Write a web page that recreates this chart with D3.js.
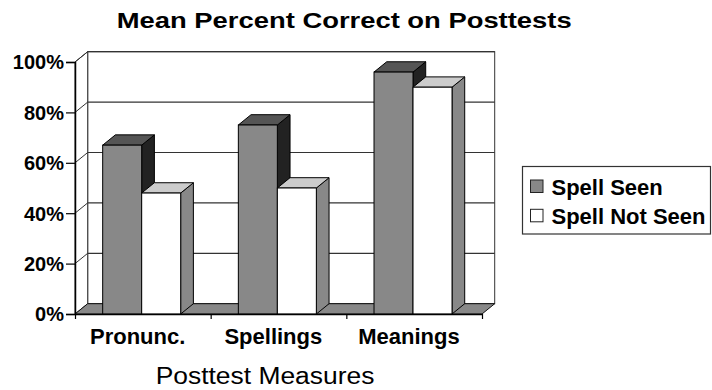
<!DOCTYPE html>
<html>
<head>
<meta charset="utf-8">
<script src="https://cdn.jsdelivr.net/npm/d3@7"></script>
<style>
  html, body { margin: 0; padding: 0; background: #fff; }
  svg { display: block; font-family: "Liberation Sans", Arial, sans-serif; }
</style>
</head>
<body>
<svg id="chart" width="712" height="390"></svg>
<script>
const categories = ["Pronunc.", "Spellings", "Meanings"];
const seriesNames = ["Spell Seen", "Spell Not Seen"];
const spellSeen = [0.67, 0.75, 0.96];
const spellNotSeen = [0.48, 0.50, 0.90];
const yTicks = [0, 0.2, 0.4, 0.6, 0.8, 1.0];
const titleText = "Mean Percent Correct on Posttests";
const xTitleText = "Posttest Measures";

const svg = d3.select("#chart");
const dx = 12.7, dy = 10.3;

const y = d3.scaleLinear().domain([0, 1]).range([314, 62]);
const x0 = d3.scaleBand().domain(categories).range([75, 482])
  .paddingInner(0.425).paddingOuter(0.2125).align(0.48);
const x1 = d3.scaleBand().domain(seriesNames).range([0, x0.bandwidth()]);
const xb = d3.scaleLinear().domain([0, categories.length]).range([75, 482]);

const styles = {
  "Spell Seen": { front: "#888888", top: "#555555", side: "#222222" },
  "Spell Not Seen": { front: "#ffffff", top: "#cccccc", side: "#888888" }
};

const xL = x0.range()[0], xR = x0.range()[1];
const y0 = y(0), y1 = y(1);

// back wall
svg.append("rect")
  .attr("x", xL + dx).attr("y", y1 - dy)
  .attr("width", xR - xL).attr("height", y0 - y1)
  .attr("fill", "#fff").attr("stroke", "#333").attr("stroke-width", 1);

// left wall
svg.append("path")
  .attr("d", `M${xL},${y0}L${xL + dx},${y0 - dy}L${xL + dx},${y1 - dy}L${xL},${y1}Z`)
  .attr("fill", "#fff").attr("stroke", "#333").attr("stroke-width", 1);

// gridlines
const grid = svg.append("g");
yTicks.filter(t => t > 0).forEach(t => {
  grid.append("line")
    .attr("x1", xL + dx).attr("x2", xR + dx)
    .attr("y1", y(t) - dy).attr("y2", y(t) - dy)
    .attr("stroke", "#333").attr("stroke-width", 1.2);
  grid.append("line")
    .attr("x1", xL).attr("x2", xL + dx)
    .attr("y1", y(t)).attr("y2", y(t) - dy)
    .attr("stroke", "#333").attr("stroke-width", 1);
});

// floor
svg.append("path")
  .attr("d", `M${xL},${y0}L${xR},${y0}L${xR + dx},${y0 - dy}L${xL + dx},${y0 - dy}Z`)
  .attr("fill", "#888888").attr("stroke", "#111").attr("stroke-width", 1);

// bars
const bars = [];
categories.forEach((c, i) => {
  bars.push({ cat: c, s: "Spell Seen", v: spellSeen[i] });
  bars.push({ cat: c, s: "Spell Not Seen", v: spellNotSeen[i] });
});
const gb = svg.append("g");
bars.forEach(b => {
  const xa = x0(b.cat) + x1(b.s);
  const xw = xa + x1.bandwidth();
  const yt = y(b.v);
  const st = styles[b.s];
  gb.append("path")
    .attr("d", `M${xw},${y0}L${xw + dx},${y0 - dy}L${xw + dx},${yt - dy}L${xw},${yt}Z`)
    .attr("fill", st.side).attr("stroke", "#000").attr("stroke-width", 1).attr("stroke-linejoin", "round");
  gb.append("path")
    .attr("d", `M${xa},${yt}L${xa + dx},${yt - dy}L${xw + dx},${yt - dy}L${xw},${yt}Z`)
    .attr("fill", st.top).attr("stroke", "#000").attr("stroke-width", 1).attr("stroke-linejoin", "round");
  gb.append("rect")
    .attr("x", xa).attr("y", yt).attr("width", x1.bandwidth()).attr("height", y0 - yt)
    .attr("fill", st.front).attr("stroke", "#000").attr("stroke-width", 1);
});

// y axis
const yAxis = svg.append("g").attr("transform", `translate(${xL},0)`)
  .call(d3.axisLeft(y).tickValues(yTicks).tickFormat(d3.format(".0%")).tickSize(9).tickPadding(2));
yAxis.select(".domain").attr("stroke", "#000").attr("stroke-width", 1.5);
yAxis.selectAll(".tick line").attr("stroke", "#000").attr("stroke-width", 1.2);
yAxis.selectAll(".tick text")
  .attr("font-size", 20).attr("font-weight", "bold").attr("fill", "#000")
  .attr("font-family", "Liberation Sans, Arial, sans-serif").attr("dy", "0.34em");

// x axis
const xAxis = svg.append("g").attr("transform", `translate(0,${y0})`)
  .call(d3.axisBottom(xb).tickValues(d3.range(categories.length + 1)).tickFormat("").tickSize(5).tickSizeOuter(0));
xAxis.select(".domain").attr("stroke", "#000").attr("stroke-width", 1.5);
xAxis.selectAll(".tick line").attr("stroke", "#000").attr("stroke-width", 1.2);

svg.append("g").selectAll("text").data(categories).join("text")
  .attr("x", d => x0(d) + x0.bandwidth() / 2 - 4)
  .attr("y", y0 + 30)
  .attr("text-anchor", "middle")
  .attr("font-size", 22).attr("font-weight", "bold").attr("fill", "#000")
  .text(d => d);

// titles (horizontally widened to match the reference's wide face)
svg.append("text")
  .attr("transform", "translate(344.2,28.3) scale(1.245,1)")
  .attr("text-anchor", "middle")
  .attr("font-size", 22).attr("font-weight", "bold").attr("fill", "#000")
  .text(titleText);

svg.append("text")
  .attr("transform", "translate(265,384.3) scale(1.07,1)")
  .attr("text-anchor", "middle")
  .attr("font-size", 24.7).attr("fill", "#000")
  .text(xTitleText);

// legend
const lg = svg.append("g");
lg.append("rect")
  .attr("x", 522.5).attr("y", 166.5).attr("width", 188).attr("height", 67.5)
  .attr("fill", "#fff").attr("stroke", "#333").attr("stroke-width", 1.2);
seriesNames.forEach((s, i) => {
  const yy = 180 + i * 29.3;
  lg.append("rect")
    .attr("x", 530.5).attr("y", yy).attr("width", 12.5).attr("height", 12.5)
    .attr("fill", styles[s].front).attr("stroke", "#222").attr("stroke-width", 1);
  lg.append("text")
    .attr("x", 551.5).attr("y", yy + 14.5)
    .attr("font-size", 22).attr("font-weight", "bold").attr("fill", "#000")
    .text(s);
});
</script>
</body>
</html>
